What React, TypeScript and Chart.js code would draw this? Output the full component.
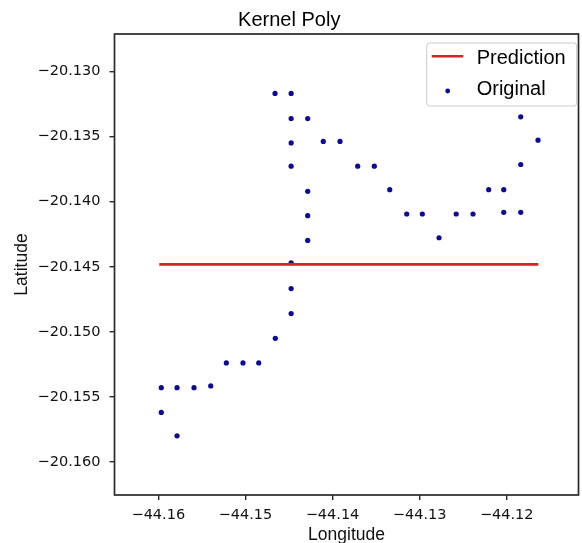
import React, { useEffect, useRef } from "react";
import { Chart, registerables } from "chart.js";

Chart.register(...registerables);

// ---- Data ----
const TITLE = "Kernel Poly";
const X_LABEL = "Longitude";
const Y_LABEL = "Latitude";

const xTicks = [-44.16, -44.15, -44.14, -44.13, -44.12];
const yTicks = [-20.16, -20.155, -20.15, -20.145, -20.14, -20.135, -20.13];

const xMin = -44.16503;
const xMax = -44.11176;
const yMin = -20.16252;
const yMax = -20.12713;

// Prediction line (constant)
const predLon = [-44.15989, -44.11637];
const predLat = [-20.14482, -20.14482];

// Original points
const origLon = [
  -44.1466, -44.14475, -44.14475, -44.14285, -44.14475, -44.14106, -44.13914,
  -44.14475, -44.14285, -44.14285, -44.14285, -44.14475, -44.13711, -44.1352,
  -44.13343, -44.13148, -44.12969, -44.12777, -44.1258, -44.12387, -44.12207,
  -44.12034, -44.12034, -44.11839, -44.11839, -44.11839, -44.11641, -44.14475,
  -44.14475, -44.14657, -44.15219, -44.15028, -44.14847, -44.15966, -44.15785,
  -44.1559, -44.15398, -44.15966, -44.15785,
];
const origLat = [
  -20.13169, -20.13169, -20.13362, -20.13362, -20.13549, -20.13538, -20.13538,
  -20.13728, -20.13921, -20.14108, -20.14298, -20.14469, -20.13728, -20.13728,
  -20.13908, -20.14095, -20.14095, -20.14277, -20.14095, -20.14095, -20.13908,
  -20.13908, -20.14082, -20.14082, -20.13715, -20.13349, -20.13528, -20.14667,
  -20.14859, -20.15049, -20.15238, -20.15238, -20.15238, -20.15428, -20.15428,
  -20.15428, -20.15415, -20.15618, -20.15798,
];

const fmt = (v: number, d: number) => {
  const s = Math.abs(v).toFixed(d);
  return (v < 0 ? "\u2212" : "") + s;
};

const framePlugin = {
  id: "frame",
  afterDraw(chart: any) {
    const { ctx, chartArea: a } = chart;
    ctx.save();
    ctx.strokeStyle = "#2a2a2a";
    ctx.lineWidth = 1.7;
    ctx.strokeRect(a.left, a.top, a.right - a.left, a.bottom - a.top);
    ctx.restore();
  },
};

const legendPlugin = {
  id: "insideLegend",
  afterDraw(chart: any) {
    const { ctx, chartArea: a } = chart;
    const ds = chart.data.datasets;
    const w = 150;
    const h = 63;
    const x0 = a.right - 151.8;
    const y0 = a.top + 9;
    ctx.save();
    ctx.beginPath();
    (ctx as any).roundRect(x0, y0, w, h, 3);
    ctx.fillStyle = "rgba(255,255,255,0.85)";
    ctx.fill();
    ctx.strokeStyle = "#cccccc";
    ctx.lineWidth = 1;
    ctx.stroke();

    ctx.font = '20px "Liberation Sans", Arial, sans-serif';
    ctx.fillStyle = "#000000";
    ctx.textBaseline = "middle";
    ctx.textAlign = "left";

    ctx.beginPath();
    ctx.strokeStyle = ds[0].borderColor;
    ctx.lineWidth = 2.6;
    ctx.moveTo(x0 + 5, y0 + 13.3);
    ctx.lineTo(x0 + 36.6, y0 + 13.3);
    ctx.stroke();
    ctx.fillText(ds[0].label, x0 + 50, y0 + 15.5);

    ctx.beginPath();
    ctx.fillStyle = ds[1].backgroundColor;
    ctx.arc(x0 + 21, y0 + 48, 2.4, 0, Math.PI * 2);
    ctx.fill();
    ctx.fillStyle = "#000000";
    ctx.fillText(ds[1].label, x0 + 50, y0 + 46.7);
    ctx.restore();
  },
};

export default function App() {
  const ref = useRef<HTMLCanvasElement | null>(null);

  useEffect(() => {
    document.body.style.margin = "0";
    const canvas = ref.current;
    if (!canvas) return;

    const tickFont = { family: '"DejaVu Sans", sans-serif', size: 14.5 };
    const titleFont = { family: '"Liberation Sans", Arial, sans-serif', size: 17.5 };

    const chart = new Chart(canvas, {
      type: "scatter",
      data: {
        datasets: [
          {
            label: "Prediction",
            type: "line",
            data: predLon.map((x, i) => ({ x, y: predLat[i] })),
            borderColor: "#d42424",
            backgroundColor: "#d42424",
            borderWidth: 2.7,
            pointRadius: 0,
            showLine: true,
            fill: false,
          } as any,
          {
            label: "Original",
            data: origLon.map((x, i) => ({ x, y: origLat[i] })),
            backgroundColor: "#0b0b96",
            borderColor: "#0b0b96",
            borderWidth: 0,
            pointRadius: 2.6,
            pointHoverRadius: 2.6,
          },
        ],
      },
      options: {
        responsive: false,
        animation: false,
        devicePixelRatio: 1,
        layout: { padding: { left: 0, right: 3.5, top: 0, bottom: 0 } },
        plugins: {
          legend: { display: false },
          tooltip: { enabled: false },
          title: {
            display: true,
            text: TITLE,
            color: "#000000",
            font: { family: '"Liberation Sans", Arial, sans-serif', size: 20, weight: "normal" as any },
            padding: { top: 8, bottom: 2 },
          },
        },
        scales: {
          x: {
            type: "linear",
            min: xMin,
            max: xMax,
            afterBuildTicks: (s: any) => {
              s.ticks = xTicks.map((v) => ({ value: v }));
            },
            afterFit: (s: any) => {
              s.height = 55;
            },
            ticks: {
              callback: (v: any) => fmt(Number(v), 2),
              font: tickFont,
              color: "#111111",
              padding: 7,
              maxRotation: 0,
              autoSkip: false,
            },
            grid: {
              display: true,
              drawOnChartArea: false,
              drawTicks: true,
              tickLength: 5,
              color: "#2a2a2a",
              lineWidth: 1.4,
            },
            border: { display: false },
            title: {
              display: true,
              text: X_LABEL,
              color: "#111111",
              font: titleFont,
              padding: { top: 0, bottom: 4.5 },
            },
          },
          y: {
            type: "linear",
            min: yMin,
            max: yMax,
            afterBuildTicks: (s: any) => {
              s.ticks = yTicks.map((v) => ({ value: v }));
            },
            afterFit: (s: any) => {
              s.width = 114.5;
            },
            ticks: {
              callback: (v: any) => fmt(Number(v), 3),
              font: tickFont,
              color: "#111111",
              padding: 9,
              autoSkip: false,
            },
            grid: {
              display: true,
              drawOnChartArea: false,
              drawTicks: true,
              tickLength: 5,
              color: "#2a2a2a",
              lineWidth: 1.4,
            },
            border: { display: false },
            title: {
              display: true,
              text: Y_LABEL,
              color: "#111111",
              font: titleFont,
              padding: { top: 12, bottom: 0 },
            },
          },
        },
      },
      plugins: [framePlugin, legendPlugin],
    });

    return () => chart.destroy();
  }, []);

  return (
    <div style={{ width: 582, height: 550, overflow: "hidden" }}>
      <canvas ref={ref} width={582} height={550} style={{ display: "block", width: 582, height: 550 }} />
    </div>
  );
}
